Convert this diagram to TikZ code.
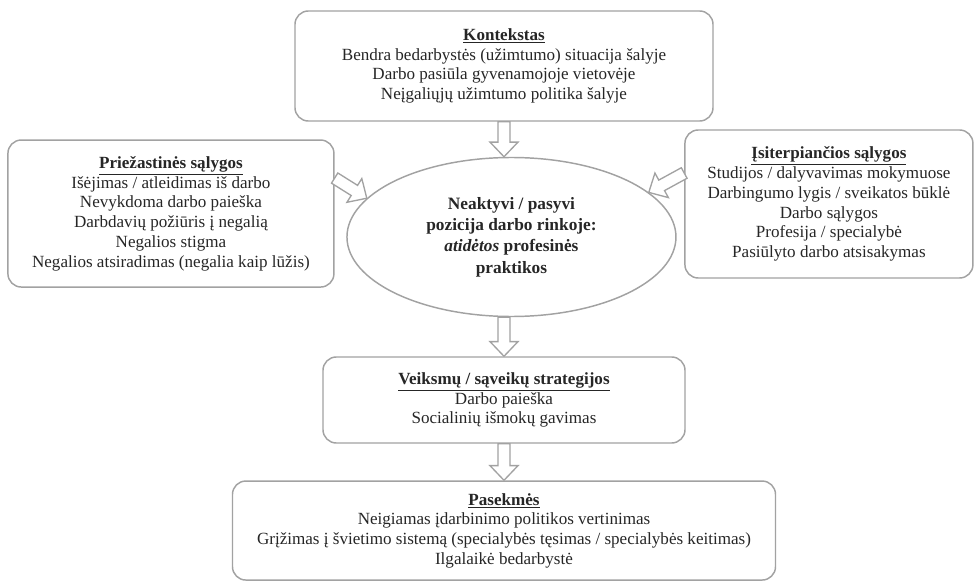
\documentclass[tikz,border=0pt]{standalone}
\usepackage{fontspec}
\setmainfont{Liberation Serif}
\usepackage{tikz}
\usetikzlibrary{shapes,arrows}
\usetikzlibrary{positioning,calc}
\definecolor{framegray}{RGB}{162,162,162}
\tikzstyle{box} = [draw=framegray, rectangle, rounded corners=10pt, line width=1.1pt,
    align=center, text=black!85, font=\fontsize{12.8}{14.8}\selectfont]
\tikzstyle{core} = [draw=framegray, ellipse, line width=1.1pt, inner sep=0pt,
    align=center, text=black!85, font=\bfseries\fontsize{13}{16}\selectfont]
\tikzstyle{hollow} = [draw=framegray, fill=white, line width=1pt, line join=miter,
    to path={($(\tikztostart)!4.5pt!90:(\tikztotarget)$)
      -- ($(\tikztotarget)!11pt!(\tikztostart)!4.5pt!-90:(\tikztostart)$)
      -- ($(\tikztotarget)!11pt!(\tikztostart)!10.5pt!-90:(\tikztostart)$)
      -- (\tikztotarget)
      -- ($(\tikztotarget)!11pt!(\tikztostart)!10.5pt!90:(\tikztostart)$)
      -- ($(\tikztotarget)!11pt!(\tikztostart)!4.5pt!90:(\tikztostart)$)
      -- ($(\tikztostart)!4.5pt!-90:(\tikztotarget)$) -- cycle}]
\begin{document}
\begin{tikzpicture}[node distance = 3cm, auto]
  \useasboundingbox (-378pt,49.5pt) rectangle (352.5pt,-386.25pt);
  \node [box, minimum width=313.5pt, minimum height=82.5pt] (konteks)
    {\underline{\textbf{Kontekstas}}\\ Bendra bedarbystės (užimtumo) situacija šalyje\\
     Darbo pasiūla gyvenamojoje vietovėje\\ Neįgaliųjų užimtumo politika šalyje};
  \node [core, below of=konteks, node distance=128.25pt, xshift=5.6pt,
    minimum width=246.75pt, minimum height=119.25pt] (pozicija)
    {Neaktyvi / pasyvi\\ pozicija darbo rinkoje:\\ \textit{atidėtos} profesinės\\ praktikos};
  \node [box, left of=pozicija, node distance=255.4pt, yshift=17.6pt,
    minimum width=244.5pt, minimum height=110.25pt] (priez)
    {\underline{\textbf{Priežastinės sąlygos}}\\ Išėjimas / atleidimas iš darbo\\
     Nevykdoma darbo paieška\\ Darbdavių požiūris į negalią\\ Negalios stigma\\
     Negalios atsiradimas (negalia kaip lūžis)};
  \node [box, right of=pozicija, node distance=238.1pt, yshift=24.75pt,
    minimum width=216pt, minimum height=111pt] (isiter)
    {\underline{\textbf{Įsiterpiančios sąlygos}}\\ Studijos / dalyvavimas mokymuose\\
     Darbingumo lygis / sveikatos būklė\\ Darbo sąlygos\\ Profesija / specialybė\\
     Pasiūlyto darbo atsisakymas};
  \node [box, below of=pozicija, node distance=122.25pt, xshift=-5.6pt,
    minimum width=271.5pt, minimum height=64.5pt] (veiksm)
    {\underline{\textbf{Veiksmų / sąveikų strategijos}}\\ Darbo paieška\\ Socialinių išmokų gavimas};
  \node [box, below of=veiksm, node distance=97.9pt,
    minimum width=407.25pt, minimum height=74.25pt] (pasek)
    {\underline{\textbf{Pasekmės}}\\ Neigiamas įdarbinimo politikos vertinimas\\
     Grįžimas į švietimo sistemą (specialybės tęsimas / specialybės keitimas)\\
     Ilgalaikė bedarbystė};
  \coordinate (priezout) at ([yshift=26.6pt]priez.east);
  \coordinate (isiterout) at ([yshift=23.25pt]isiter.west);
  \draw [hollow] (konteks.south) to (konteks.south |- pozicija.north);
  \draw [hollow] (priezout) to (pozicija.165);
  \draw [hollow] (isiterout) to (pozicija.18);
  \draw [hollow] (veiksm.north |- pozicija.south) to (veiksm.north);
  \draw [hollow] (veiksm.south) to (pasek.north);
\end{tikzpicture}
\end{document}
